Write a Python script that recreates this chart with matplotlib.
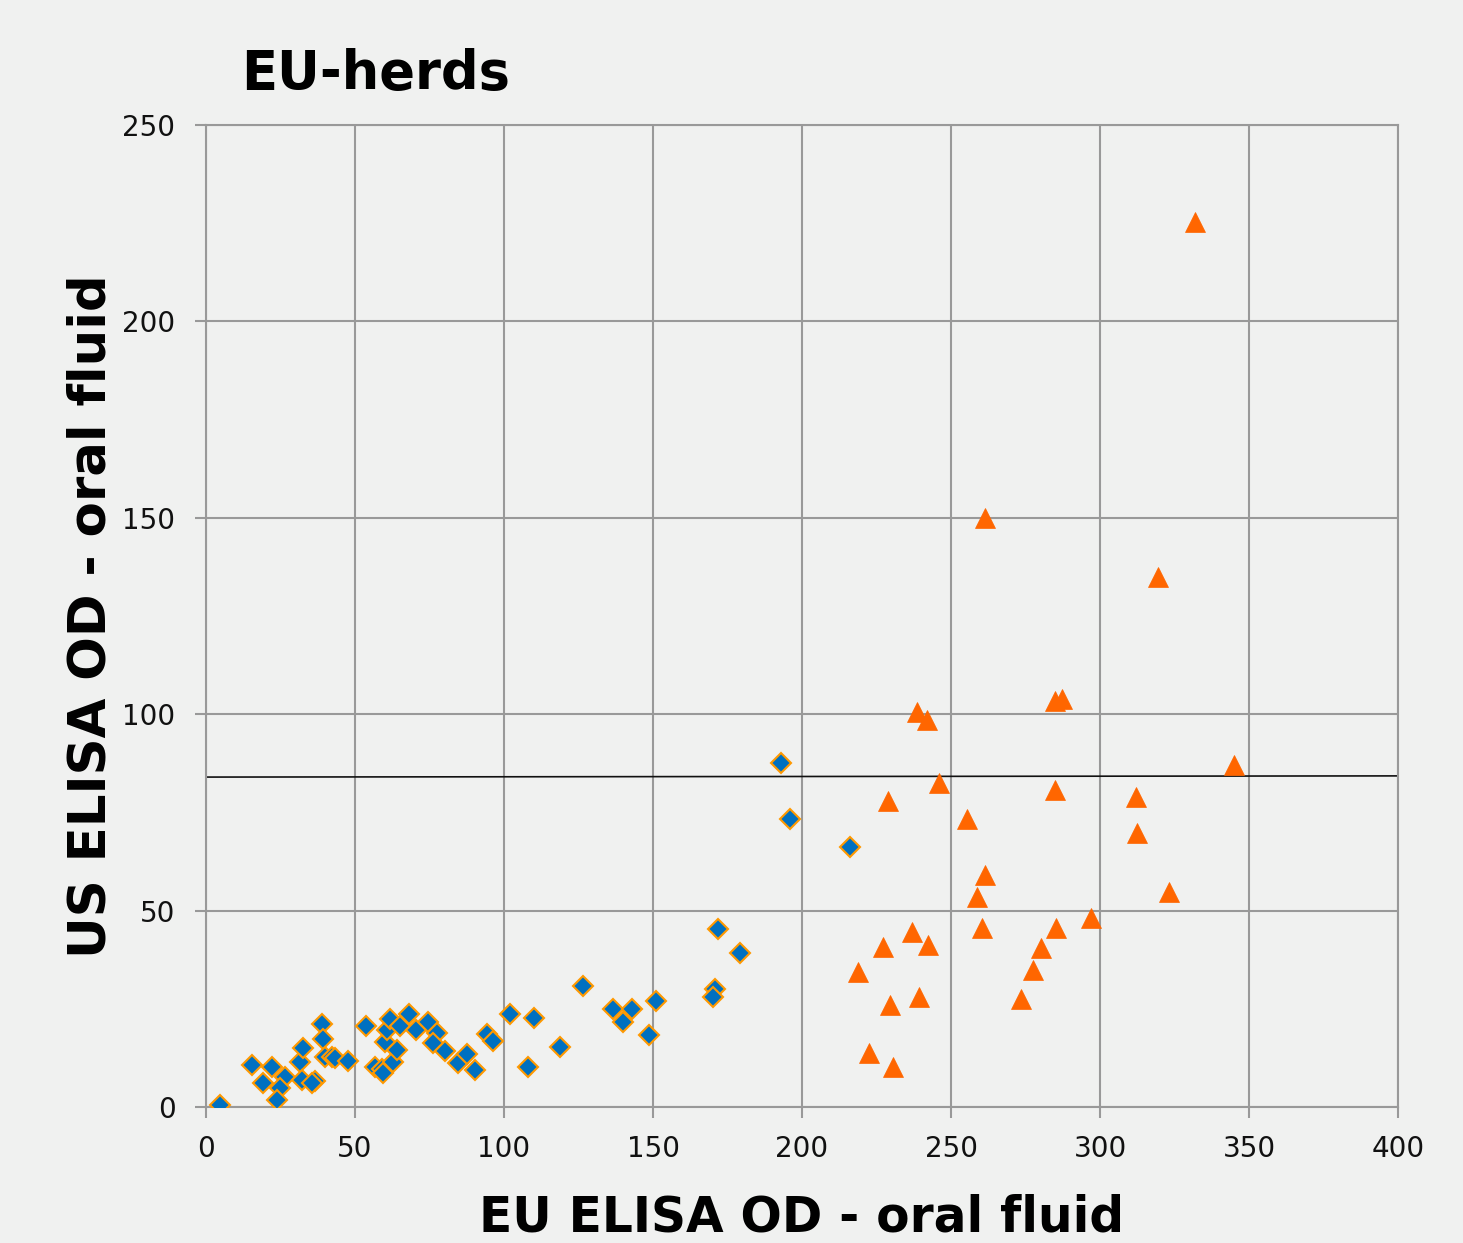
import matplotlib
matplotlib.use('Agg')
import matplotlib.pyplot as plt

# EU-herds: blue diamonds (below cut-off on EU test) and orange triangles
eu_diamond = [4.7, 15.3, 22.0, 19.2, 26.5, 24.8, 23.9, 31.5, 32.4, 32.1, 36.6, 35.5,
              38.8, 39.4, 39.9, 42.2, 43.3, 47.8, 53.7, 56.7, 58.9, 59.3, 60.1, 60.6,
              61.7, 65.1, 62.9, 64.0, 68.2, 70.5, 74.6, 77.6, 76.3, 80.2, 84.7, 87.5,
              90.3, 94.2, 96.2, 102.0, 110.1, 108.0, 118.8, 126.4, 136.7, 143.1, 139.8,
              151.0, 148.7, 171.7, 179.2, 170.8, 170.2, 193.0, 196.0, 216.1]
us_diamond = [0.5, 10.7, 10.3, 6.0, 7.6, 4.8, 1.8, 11.5, 14.9, 6.9, 6.7, 6.1,
              21.1, 17.2, 12.8, 12.8, 12.4, 11.8, 20.6, 10.3, 9.8, 8.7, 16.6, 19.6,
              22.3, 20.6, 11.5, 14.5, 23.7, 19.6, 21.7, 18.9, 16.4, 14.3, 11.3, 13.5,
              9.4, 18.6, 16.9, 23.6, 22.6, 10.3, 15.4, 30.8, 24.9, 25.0, 21.7,
              27.0, 18.3, 45.2, 39.1, 30.0, 28.1, 87.7, 73.2, 66.3]

eu_triangle = [246.1, 229.0, 255.3, 284.9, 261.4, 258.6, 260.3, 237.0, 242.4, 227.3,
               218.9, 239.4, 229.5, 222.5, 230.6, 280.2, 277.4, 273.5, 285.2, 284.9,
               287.1, 345.1, 312.0, 312.3, 323.2, 296.9, 331.9, 261.4, 319.5, 238.6,
               241.9]
us_triangle = [82.4, 78.0, 73.2, 80.7, 59.1, 53.5, 45.5, 44.5, 41.2, 40.7,
               34.3, 28.1, 26.0, 13.7, 10.3, 40.4, 34.9, 27.4, 45.5, 103.4,
               103.9, 87.1, 78.8, 69.8, 54.8, 48.0, 225.3, 150.0, 134.9, 100.6,
               98.5]

cutoff_x = [0, 400]
cutoff_y = [84.0, 84.3]

bg = '#f0f1f0'
fig = plt.figure(figsize=(14.63, 12.43), dpi=100, facecolor=bg)
ax = fig.add_axes([0.1408, 0.1094, 0.8148, 0.79])
ax.set_facecolor(bg)

ax.plot(cutoff_x, cutoff_y, color='#111111', lw=1.2, zorder=2)
ax.plot(eu_diamond, us_diamond, ls='none', marker='D', markersize=10,
        markerfacecolor='#0070c0', markeredgecolor='#ff9900', markeredgewidth=1.5, zorder=3)
ax.plot(eu_triangle, us_triangle, ls='none', marker='^', markersize=15,
        markerfacecolor='#ff6600', markeredgecolor='#ff6600', markeredgewidth=0.5, zorder=3)

ax.set_xlim(0, 400)
ax.set_ylim(0, 250)
ax.set_xticks(range(0, 401, 50))
ax.set_yticks(range(0, 251, 50))
ax.grid(True, color='#999999', lw=1.5)
ax.set_axisbelow(True)
for s in ax.spines.values():
    s.set_color('#999999')
    s.set_linewidth(1.5)
ax.tick_params(colors='#999999', labelcolor='#111111', labelsize=20, length=8, width=1.5)
ax.tick_params(axis='x', pad=12)
ax.tick_params(axis='y', pad=14)

ax.set_xlabel('EU ELISA OD - oral fluid', fontsize=35, fontweight='bold', labelpad=22)
ax.set_ylabel('US ELISA OD - oral fluid', fontsize=37, fontweight='bold', labelpad=4)
fig.text(0.165, 0.928, 'EU-herds', fontsize=38, fontweight='bold')

fig.savefig('out.png', dpi=100, facecolor=bg)
